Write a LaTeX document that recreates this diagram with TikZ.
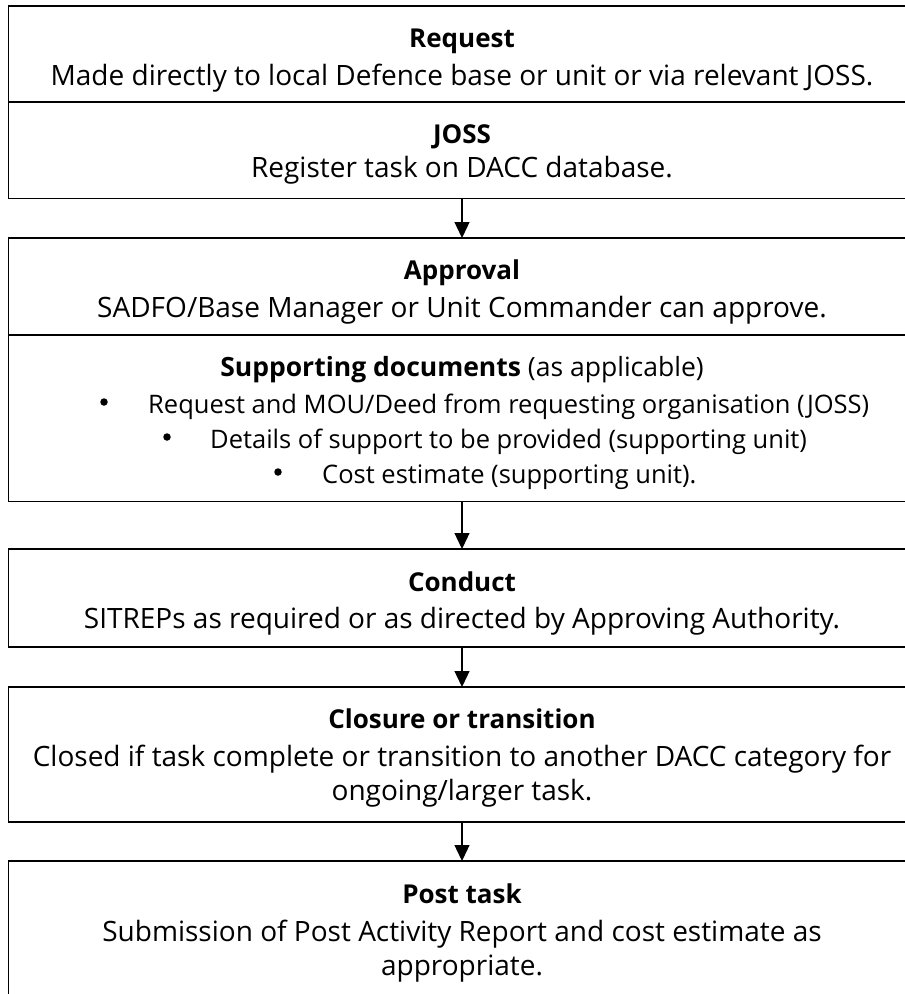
\documentclass[tikz,border=0pt]{standalone}
\usepackage{fontspec}
\setmainfont{Open Sans}
\usetikzlibrary{arrows.meta}
\begin{document}
\begin{tikzpicture}[x=1pt,y=-1pt,
  stagebox/.style={draw=black,line width=1.5pt,minimum width=907.5pt,inner sep=0pt,anchor=north west,outer sep=0pt},
  txt/.style={font=\fontsize{28}{34}\selectfont,inner sep=0pt,anchor=base},
  ttl/.style={txt,font=\fontsize{26}{34}\selectfont\bfseries},
  small/.style={txt,font=\fontsize{25.5}{34}\selectfont},
  bul/.style={small,anchor=base west},
  dot/.style={circle,fill=black,inner sep=0pt,minimum size=7.5pt},
  flow/.style={line width=1.3pt,-{Triangle[length=16pt,width=15pt]}}]
\useasboundingbox (0,0) rectangle (905,994);
% stage boxes
\node[stagebox,minimum height=95.5pt] (req)  at (8.5,6)   {};
\node[stagebox,minimum height=96pt]   (joss) at (8.5,102.5) {};
\node[stagebox,minimum height=96.5pt] (appr) at (8.5,238) {};
\node[stagebox,minimum height=166pt]  (supp) at (8.5,335.5) {};
\node[stagebox,minimum height=98pt]   (cond) at (8.5,549) {};
\node[stagebox,minimum height=135pt]  (clos) at (8.5,687) {};
\node[stagebox,minimum height=150pt]  (post) at (8.5,861) {};
% texts
\node[ttl] (reqT) at (462,47) {Request};
\node[txt] (reqB) at (462,85) {Made directly to local Defence base or unit or via relevant JOSS.};
\node[ttl] (jossT) at (462,143) {JOSS};
\node[txt] (jossB) at (462,177) {Register task on DACC database.};
\node[ttl] (apprT) at (462,279) {Approval};
\node[txt] (apprB) at (462,317) {SADFO/Base Manager or Unit Commander can approve.};
\node[txt,font=\fontsize{26.5}{34}\selectfont] (suppT) at (462,376) {\textbf{Supporting documents} (as applicable)};
\node[dot] (b1) at (104,402) {};
\node[bul] (l1) at (148,413) {Request and MOU/Deed from requesting organisation (JOSS)};
\node[dot] (b2) at (167,437) {};
\node[bul] (l2) at (210,448) {Details of support to be provided (supporting unit)};
\node[dot] (b3) at (278,472) {};
\node[bul] (l3) at (322,483) {Cost estimate (supporting unit).};
\node[ttl] (condT) at (462,591) {Conduct};
\node[txt] (condB) at (462,628) {SITREPs as required or as directed by Approving Authority.};
\node[ttl] (closT) at (462,728) {Closure or transition};
\node[txt] (closB) at (462,766) {Closed if task complete or transition to another DACC category for};
\node[txt] (closC) at (462,800) {ongoing/larger task.};
\node[ttl] (postT) at (462,903) {Post task};
\node[txt] (postB) at (462,941) {Submission of Post Activity Report and cost estimate as};
\node[txt] (postC) at (462,975) {appropriate.};
% connectors
\draw[flow] (462,198) -- (appr.north -| 462,0);
\draw[flow] (462,501.5) -- (cond.north -| 462,0);
\draw[flow] (462,647) -- (clos.north -| 462,0);
\draw[flow] (462,822) -- (post.north -| 462,0);
\end{tikzpicture}
\end{document}
